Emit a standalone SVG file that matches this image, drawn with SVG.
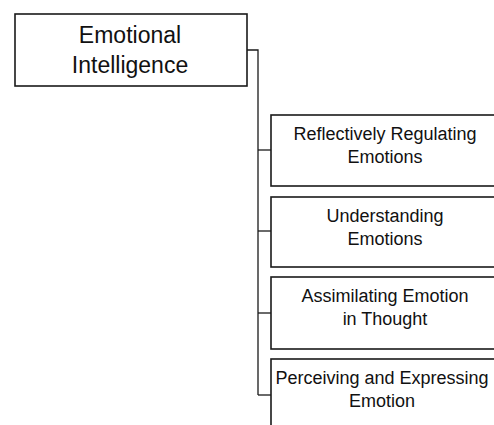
<svg xmlns="http://www.w3.org/2000/svg" width="494" height="425" viewBox="0 0 494 425">
<style>
.box{fill:#fff;stroke:#1a1a1a;stroke-width:1.6}
.conn{fill:none;stroke:#1a1a1a;stroke-width:1.3}
.t{font-family:"Liberation Sans",Arial,sans-serif;fill:#111;text-anchor:middle}
.big{font-size:23px}
.small{font-size:18px}
</style>
<rect width="494" height="425" fill="#fff"/>
<g id="connectors">
<path class="conn" d="M247,50 H258 V395"/>
<path class="conn" d="M258,150 H271"/>
<path class="conn" d="M258,231 H271"/>
<path class="conn" d="M258,313 H271"/>
<path class="conn" d="M258,395 H271"/>
</g>
<g id="emotional-intelligence">
<rect class="box" x="15" y="14" width="232" height="72"/>
<text class="t big" x="130" y="43">Emotional</text>
<text class="t big" x="130" y="73">Intelligence</text>
</g>
<g id="reflectively-regulating">
<rect class="box" x="271" y="115" width="240" height="71"/>
<text class="t small" x="385" y="140">Reflectively Regulating</text>
<text class="t small" x="385" y="163">Emotions</text>
</g>
<g id="understanding">
<rect class="box" x="271" y="197" width="240" height="70"/>
<text class="t small" x="385" y="222">Understanding</text>
<text class="t small" x="385" y="245">Emotions</text>
</g>
<g id="assimilating">
<rect class="box" x="271" y="277" width="240" height="72"/>
<text class="t small" x="385" y="302">Assimilating Emotion</text>
<text class="t small" x="385" y="325">in Thought</text>
</g>
<g id="perceiving">
<rect class="box" x="271" y="359" width="240" height="80"/>
<text class="t small" x="382" y="384">Perceiving and Expressing</text>
<text class="t small" x="382" y="407">Emotion</text>
</g>
</svg>
